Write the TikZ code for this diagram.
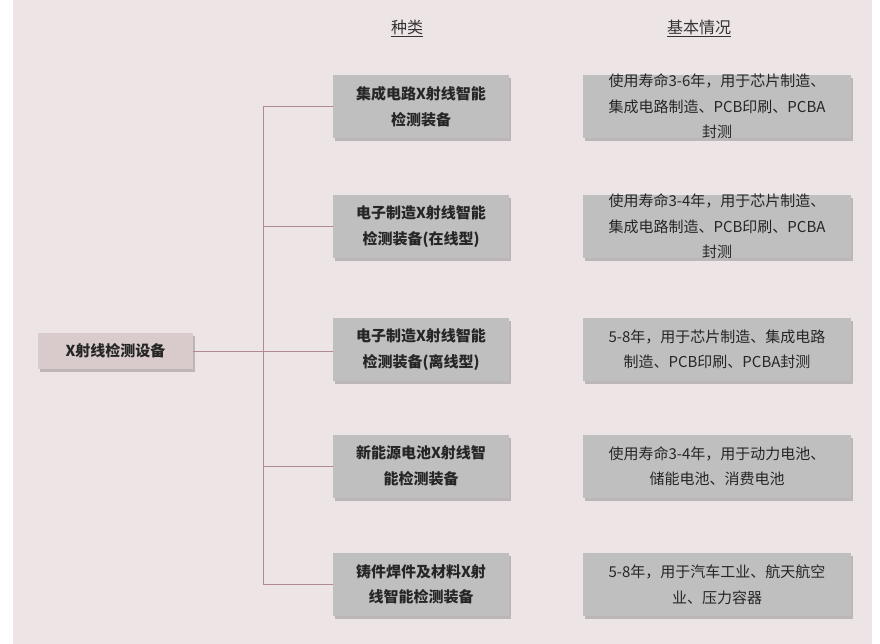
\documentclass[tikz,border=0pt]{standalone}
\usepackage{fontspec}
\setmainfont{Noto Sans CJK SC}
\usetikzlibrary{shadows}
\definecolor{bgpink}{HTML}{EDE4E6}
\definecolor{rootfill}{HTML}{D9CACB}
\definecolor{boxgray}{HTML}{BFBFBF}
\definecolor{linkred}{HTML}{B08A8E}
\tikzset{
  kindbox/.style={fill=boxgray, minimum width=176pt, minimum height=63pt, inner sep=0pt,
    drop shadow={shadow xshift=2pt, shadow yshift=-3pt, fill=black, opacity=.2}},
  infobox/.style={fill=boxgray, minimum width=268pt, minimum height=63pt, inner sep=0pt,
    drop shadow={shadow xshift=2pt, shadow yshift=-3pt, fill=black, opacity=.2}},
  kindtxt/.style={font=\bfseries\fontsize{15}{25.5}\selectfont, align=center, text=black!85},
  infotxt/.style={font=\fontsize{15}{25.5}\selectfont, align=center, text=black!85},
  head/.style={font=\fontsize{16}{18}\selectfont, text=black!80},
  link/.style={draw=linkred, line width=.7pt}
}
\begin{document}
\begin{tikzpicture}[x=1pt, y=-1pt]
	\fill[white] (0,0) rectangle (880,644);
	\fill[bgpink] (13,0) rectangle (872,644);
	\node[head] (H1) at (407,28) {\underline{种类}};
	\node[head] (H2) at (699,28) {\underline{基本情况}};
	\node[fill=rootfill, minimum width=155pt, minimum height=36pt,
	  drop shadow={shadow xshift=2pt, shadow yshift=-3pt, fill=black, opacity=.2},
	  kindtxt] (R) at (115.5,351) {X射线检测设备};
	% kinds and details
	\node[kindbox] (K1) at (421,106.5) {};
	\node[kindtxt] (K1t) at (K1) {集成电路X射线智能\\检测装备};
	\node[kindbox] (K2) at (421,226.5) {};
	\node[kindtxt] (K2t) at (K2) {电子制造X射线智能\\检测装备(在线型)};
	\node[kindbox] (K3) at (421,349.5) {};
	\node[kindtxt] (K3t) at (K3) {电子制造X射线智能\\检测装备(离线型)};
	\node[kindbox] (K4) at (421,466) {};
	\node[kindtxt] (K4t) at (K4) {新能源电池X射线智\\能检测装备};
	\node[kindbox] (K5) at (421,584.5) {};
	\node[kindtxt] (K5t) at (K5) {铸件焊件及材料X射\\线智能检测装备};
	\node[infobox] (I1) at (717,106.5) {};
	\node[infotxt] (I1t) at (I1) {使用寿命3-6年，用于芯片制造、\\集成电路制造、PCB印刷、PCBA\\封测};
	\node[infobox] (I2) at (717,226.5) {};
	\node[infotxt] (I2t) at (I2) {使用寿命3-4年，用于芯片制造、\\集成电路制造、PCB印刷、PCBA\\封测};
	\node[infobox] (I3) at (717,349.5) {};
	\node[infotxt] (I3t) at (I3) {5-8年，用于芯片制造、集成电路\\制造、PCB印刷、PCBA封测};
	\node[infobox] (I4) at (717,466) {};
	\node[infotxt] (I4t) at (I4) {使用寿命3-4年，用于动力电池、\\储能电池、消费电池};
	\node[infobox] (I5) at (717,584.5) {};
	\node[infotxt] (I5t) at (I5) {5-8年，用于汽车工业、航天航空\\业、压力容器};
	% tree
	\coordinate (T1) at (263,106.5);
	\coordinate (T5) at (263,584.5);
	\draw[link] (T1) -- (T5);
	\draw[link] (R.east) -- (K3.west |- R.east);
	\foreach \k in {1,2,4,5} \draw[link] (263,0 |- K\k.west) -- (K\k.west);
	\draw[link] (T1) -- (K1.west);
	\draw[link] (T5) -- (K5.west);
\end{tikzpicture}
\end{document}
